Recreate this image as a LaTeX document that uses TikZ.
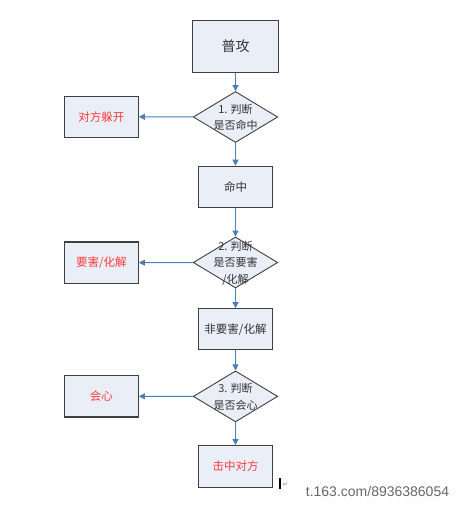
\documentclass[tikz,border=0pt]{standalone}
\usepackage{fontspec}
\setmainfont{Liberation Serif}
\newfontfamily\cjk{Noto Sans CJK SC}
\newfontfamily\wmfont{Liberation Sans}
\newfontfamily\symfont{DejaVu Sans}
\usetikzlibrary{shapes.geometric,arrows.meta}
\definecolor{boxfill}{HTML}{E9EEF7}
\definecolor{boxline}{HTML}{3F3F3F}
\definecolor{arrowblue}{HTML}{4A7EBB}
\definecolor{txtred}{HTML}{FF3B3B}
\definecolor{txtdark}{HTML}{333333}
\tikzset{
  stepbox/.style={draw=boxline, line width=1.2pt, fill=boxfill, inner sep=0pt,
    text=txtdark, font=\cjk\fontsize{11.5}{13}\selectfont},
  redbox/.style={stepbox, text=txtred},
  decision/.style={shape=diamond, draw=boxline, line width=0.9pt, fill=boxfill,
    inner sep=0pt, minimum width=84.5pt, minimum height=51pt},
  dtext/.style={align=center, text=txtdark, font=\cjk\fontsize{11}{16.5}\selectfont, inner sep=0pt},
  flow/.style={draw=arrowblue, line width=1pt, -{Triangle[width=6pt,length=6pt]}}
}
\begin{document}
\begin{tikzpicture}[x=1pt,y=-1pt]
\useasboundingbox (0,0) rectangle (460,508);
% main column
\node[stepbox, minimum width=85.5pt, minimum height=51.5pt, font=\cjk\fontsize{14}{16}\selectfont] (a) at (235.5,46.5) {普攻};
\node[decision] (d1) at (235.5,117) {};
\node[dtext] (d1t) at (235.5,117.5) {1. 判断\\是否命中};
\node[stepbox, minimum width=73.6pt, minimum height=41.4pt] (b) at (235.5,187) {命中};
\node[decision] (d2) at (235.5,262.5) {};
\node[dtext] (d2t) at (235.5,263) {2. 判断\\是否要害\\/化解};
\node[stepbox, minimum width=73.6pt, minimum height=41pt] (c) at (235.5,329.2) {非要害/化解};
\node[decision] (d3) at (235.5,396.4) {};
\node[dtext] (d3t) at (235.5,397) {3. 判断\\是否会心};
\node[redbox, minimum width=73.6pt, minimum height=41.6pt] (e) at (235.5,466.5) {击中对方};
% side boxes
\node[redbox, minimum width=74pt, minimum height=41pt] (l1) at (101.3,116.8) {对方躲开};
\node[redbox, minimum width=74pt, minimum height=41.3pt] (l2) at (101.3,262.7) {要害/化解};
\node[redbox, minimum width=74pt, minimum height=41.3pt] (l3) at (101.3,396.3) {会心};
% connectors
\draw[flow] (a) -- (d1);
\draw[flow] (d1) -- (b);
\draw[flow] (b) -- (d2);
\draw[flow] (d2) -- (c);
\draw[flow] (c) -- (d3);
\draw[flow] (d3) -- (e);
\draw[flow] (d1.west) -- (l1.east);
\draw[flow] (d2.west) -- (l2.east);
\draw[flow] (d3.west) -- (l3.east);
% cursor mark and watermark
\fill[black] (279.2,477.5) rectangle (281.2,488.5);
\node[inner sep=0pt, text=gray, font=\symfont\fontsize{6}{7}\selectfont] (pm) at (285.5,485) {↵};
\node[inner sep=0pt, text=black!60, font=\wmfont\fontsize{14}{16}\selectfont] (wm) at (377.5,491.5) {t.163.com/8936386054};
\end{tikzpicture}
\end{document}
